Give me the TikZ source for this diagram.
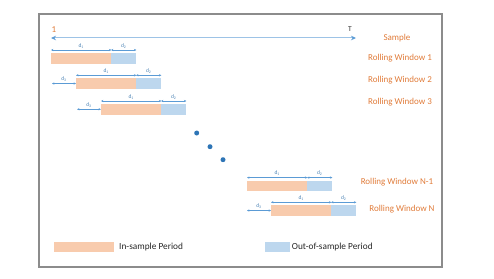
\documentclass[tikz,border=0pt]{standalone}
\usepackage{fontspec}
\setmainfont{Carlito}
\usetikzlibrary{arrows.meta}
\definecolor{inorange}{HTML}{F8CBAD}
\definecolor{outblue}{HTML}{BDD7EE}
\definecolor{txtorange}{HTML}{E07B39}
\definecolor{arrblue}{HTML}{5B9BD5}
\definecolor{axisblue}{HTML}{9DC3E6}
\definecolor{dotblue}{HTML}{2E75B6}
\definecolor{framegray}{HTML}{8C8C8C}
\tikzset{
  insample/.style={fill=inorange, draw=none, minimum width=60pt, minimum height=10.7pt, inner sep=0pt, anchor=north west},
  outsample/.style={fill=outblue, draw=none, minimum width=25pt, minimum height=10.7pt, inner sep=0pt, anchor=north west},
  dimarrow/.style={draw=arrblue, line width=0.5pt, {Stealth[length=2.4pt,width=2.2pt]}-{Stealth[length=2.4pt,width=2.2pt]}},
  dlabel/.style={font=\fontsize{5.5}{6}\selectfont, text=arrblue!85!black, inner sep=0pt},
  winlabel/.style={font=\fontsize{9}{10}\selectfont, text=txtorange, inner sep=0pt},
  leglabel/.style={font=\fontsize{9.3}{10}\selectfont, text=black!85, inner sep=0pt, anchor=west},
  dotstyle/.style={circle, fill=dotblue, minimum size=5pt, inner sep=0pt},
}
\begin{document}
\begin{tikzpicture}[x=1pt, y=-1pt]
\useasboundingbox (0,0) rectangle (494,278);
\draw[framegray, line width=1.2pt] (39,14) rectangle (442,267);
% sample axis
\coordinate (s0) at (51,38);
\coordinate (s1) at (356,38);
\draw[axisblue, line width=1pt, {Stealth[length=5pt,width=4.5pt,color=arrblue,fill=arrblue]}-{Stealth[length=5pt,width=4.5pt,color=arrblue,fill=arrblue]}] (s0) -- (s1);
\node[font=\fontsize{9}{10}\selectfont, text=txtorange, inner sep=0pt] (one) at (54,29.5) {1};
\node[font=\fontsize{7.5}{8}\selectfont, text=black!80, inner sep=0pt] (tee) at (350,29.5) {T};
\node[winlabel] (lsample) at (397,38) {Sample};
% windows
\foreach \n/\x/\y in {w1/51/52.7, w2/76/78, w3/101/103.7, wm/247/180.3, wn/271/205}{
  \node[insample] (\n i) at (\x,\y) {};
  \node[outsample] (\n o) at (\x+60,\y) {};
  \draw[dimarrow] ([yshift=2.7pt]\n i.north west) -- ([yshift=2.7pt]\n i.north east);
  \draw[dimarrow] ([yshift=2.7pt]\n o.north west) -- ([yshift=2.7pt]\n o.north east);
  \node[dlabel] (\n d1) at ([yshift=6.8pt]\n i.north) {d\textsubscript{1}};
  \node[dlabel] (\n d2) at ([yshift=6.8pt]\n o.north) {d\textsubscript{2}};
}
\foreach \n in {w2, w3, wn}{
  \coordinate (\n s) at ([xshift=-24pt]\n i.west);
  \draw[dimarrow] (\n s) -- (\n i.west);
  \node[dlabel] (\n d3) at ([xshift=-12pt,yshift=4.2pt]\n i.west) {d\textsubscript{3}};
}
\node[winlabel] (l1) at (400,57.7) {Rolling Window 1};
\node[winlabel] (l2) at (400,80) {Rolling Window 2};
\node[winlabel] (l3) at (400,102) {Rolling Window 3};
\node[winlabel] (lm) at (397,182) {Rolling Window N-1};
\node[winlabel] (ln) at (402,209) {Rolling Window N};
% dots
\node[dotstyle] (dot1) at (196.7,133) {};
\node[dotstyle] (dot2) at (210,146.7) {};
\node[dotstyle] (dot3) at (223,159.7) {};
% legend
\node[insample, minimum width=60pt, minimum height=10.3pt] (legin) at (54,241.7) {};
\node[leglabel] (legint) at (119,246.8) {In-sample Period};
\node[outsample, minimum width=24.6pt, minimum height=10pt] (legout) at (264.7,242) {};
\node[leglabel] (legoutt) at (291.7,247) {Out-of-sample Period};
\end{tikzpicture}
\end{document}
